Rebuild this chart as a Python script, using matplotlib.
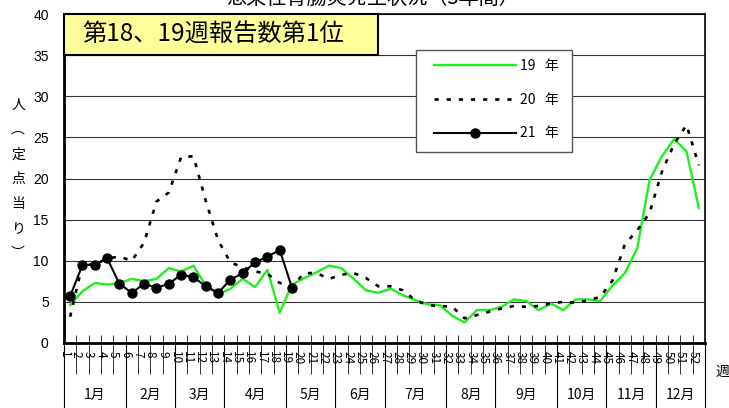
import matplotlib
matplotlib.use('Agg')
import matplotlib.pyplot as plt
from matplotlib.patches import Rectangle

plt.rcParams['font.family'] = ['Noto Sans CJK JP', 'DejaVu Sans']

# weekly reports per sentinel site (weeks 1-52)
weeks = list(range(1, 53))
y19 = [4.6, 6.3, 7.3, 7.1, 7.3, 7.8, 7.5, 7.8, 9.1, 8.7,
       9.4, 7.0, 5.9, 6.6, 7.8, 6.8, 8.9, 3.7, 7.1, 7.9,
       8.6, 9.4, 9.1, 7.8, 6.4, 6.1, 6.6, 5.8, 5.2, 4.7,
       4.6, 3.3, 2.5, 4.0, 4.0, 4.4, 5.3, 5.1, 4.0, 4.8,
       4.0, 5.3, 5.3, 5.1, 7.0, 8.5, 11.5, 19.8, 22.7, 24.8,
       23.3, 16.4]
y20 = [3.2, 9.6, 9.5, 10.3, 10.5, 10.0, 12.2, 17.2, 18.3, 22.6,
       22.7, 17.3, 12.5, 9.8, 9.2, 8.7, 8.4, 7.3, 6.9, 8.5,
       8.5, 7.8, 8.3, 8.5, 7.9, 6.9, 6.9, 6.4, 5.2, 4.6,
       4.5, 4.4, 3.0, 3.4, 3.8, 4.2, 4.5, 4.4, 4.5, 4.8,
       5.0, 4.9, 5.2, 5.6, 7.6, 12.0, 13.7, 15.8, 20.8, 24.2,
       26.5, 21.6]
y21 = [5.7, 9.5, 9.5, 10.3, 7.2, 6.1, 7.2, 6.7, 7.2, 8.3,
       8.0, 6.9, 6.1, 7.7, 8.5, 9.8, 10.5, 11.3, 6.7]

months = ['1月', '2月', '3月', '4月', '5月', '6月',
          '7月', '8月', '9月', '10月', '11月', '12月']
month_edges = [0, 5, 9, 13, 18, 22, 26, 31, 35, 40, 44, 48, 52]

fig = plt.figure(figsize=(7.29, 4.08), dpi=100)
ax = fig.add_axes([64 / 729, 1 - 343 / 408, 641 / 729, 329 / 408])

x19 = [w - 0.5 for w in weeks]
x21 = [w - 0.5 for w in weeks[:len(y21)]]

ax.plot(x19, y19, color='#1EF01E', lw=1.7, label='19   年', zorder=3)
ax.plot(x19, y20, color='black', lw=1.9, ls=(0, (1.6, 3.0)), label='20   年', zorder=4)
ax.plot(x21, y21, color='black', lw=1.5, marker='o', ms=6.5, label='21   年', zorder=5)

ax.set_xlim(0, 52)
ax.set_ylim(0, 40)
ax.set_yticks(range(0, 41, 5))
ax.tick_params(axis='y', length=0, pad=11, labelsize=10)
for lab in ax.get_yticklabels():
    lab.set_fontfamily(['Liberation Sans', 'DejaVu Sans'])
ax.yaxis.grid(True, color='#333333', lw=0.8)
ax.set_axisbelow(True)

# long outward ticks at week boundaries, short inward ticks carry the labels
ax.xaxis.remove_overlapping_locs = False
ax.set_xticks(range(0, 53))
ax.set_xticklabels([])
ax.set_xticks(range(0, 52), minor=True)
ax.set_xticklabels([str(w) for w in weeks], minor=True, rotation=-90,
                   fontsize=8.5, va='top', ha='center')
ax.tick_params(axis='x', which='major', direction='out', length=22, width=0.7, color='#333333')
ax.tick_params(axis='x', which='minor', direction='in', length=6, width=0.7, color='#333333', pad=6)

for side in ['left', 'bottom']:
    ax.spines[side].set_linewidth(2.0)
for side in ['top', 'right']:
    ax.spines[side].set_linewidth(1.2)

# month separators and labels
xt = ax.get_xaxis_transform()
ax.vlines(month_edges, -0.2, 0, transform=xt, color='black', lw=0.8, clip_on=False)
for i, m in enumerate(months):
    ax.text((month_edges[i] + month_edges[i + 1]) / 2, -0.158, m, transform=xt,
            ha='center', va='center', fontsize=10)

fig.text(722 / 729, 1 - 372 / 408, '週', ha='center', va='center', fontsize=10)

# vertical y label
ylab = ['人', '︵', '定', '点', '当', 'り', '︶']
for i, ch in enumerate(ylab):
    fig.text(18 / 729, 1 - (105 + i * 24.7) / 408, ch, ha='center', va='center', fontsize=10)

fig.text(373 / 729, 1 - 4 / 408, '感染性胃腸炎発生状況（3年間）', ha='center', va='baseline', fontsize=14.5)

# highlight box
ax.add_patch(Rectangle((0, 0.875), (378 - 64) / 641, 0.125, transform=ax.transAxes,
                       facecolor='#FFFF99', edgecolor='black', lw=1.5, zorder=6, clip_on=False))
fig.text(82 / 729, 1 - 35 / 408, '第18、19週報告数第1位', ha='left', va='center', fontsize=17.5, zorder=7)

# legend with a separately drawn frame
fig.patches.append(Rectangle((416 / 729, 1 - 152 / 408), 156 / 729, 102 / 408,
                             transform=fig.transFigure, facecolor='white',
                             edgecolor='#555555', lw=1.0, zorder=5))
leg = fig.legend(*ax.get_legend_handles_labels(), loc='upper left',
                 bbox_to_anchor=(434 / 729, 1 - 59 / 408), fontsize=10, handlelength=5.9,
                 handletextpad=0.3, labelspacing=1.42, borderpad=0, borderaxespad=0,
                 frameon=False, numpoints=1)
leg.set_zorder(6)

fig.savefig('out.png', dpi=100)
